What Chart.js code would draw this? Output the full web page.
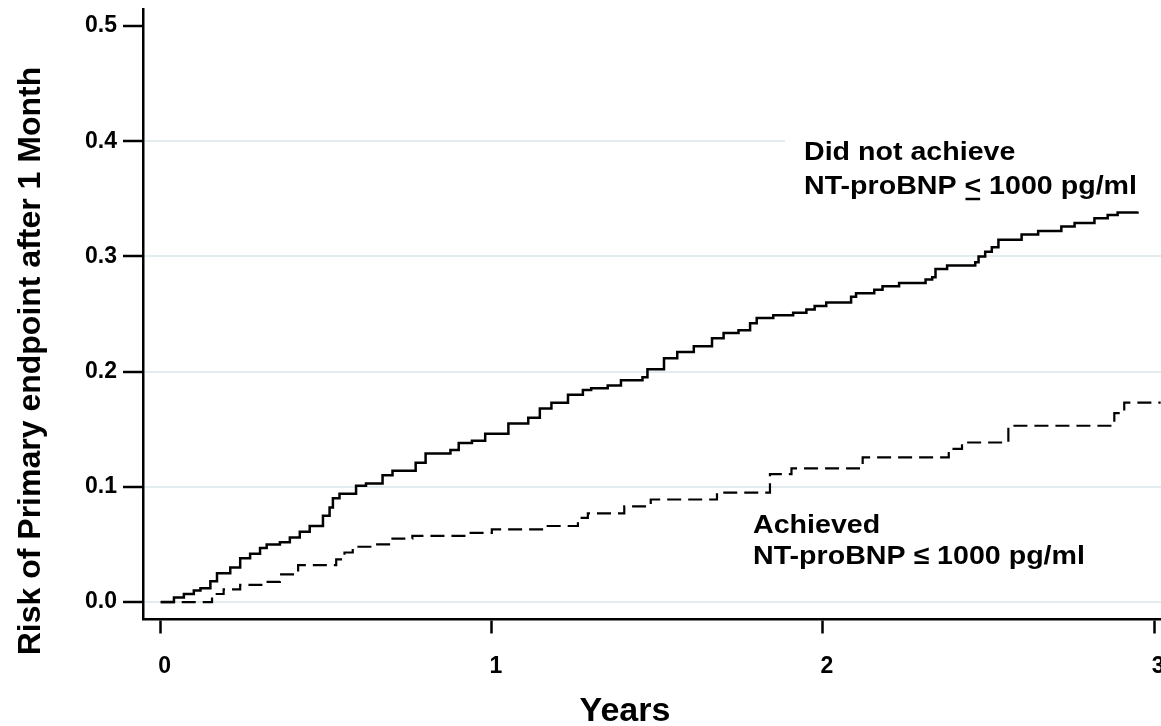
<!DOCTYPE html>
<html>
<head>
<meta charset="utf-8">
<title>Risk of primary endpoint by NT-proBNP response</title>
<script src="https://cdn.jsdelivr.net/npm/chart.js@4.4.1/dist/chart.umd.min.js"></script>
<style>
    html, body { margin: 0; padding: 0; background: #fff; overflow: hidden; }
    #wrap { width: 1161px; height: 726px; }
</style>
</head>
<body>
<div id="wrap"><canvas id="riskChart" width="1161" height="726"></canvas></div>
<script>
/* ---------------- Data ---------------- */

const yearTicks = [0, 1, 2, 3];
const riskTicks = [0, 0.1, 0.2, 0.3, 0.4, 0.5];

// Did not achieve NT-proBNP <= 1000 pg/ml (step times in years, cumulative risk)
const notAchievedYears = [
    0, 0.04, 0.07, 0.10, 0.12, 0.15, 0.17, 0.21, 0.24, 0.27, 0.30, 0.32, 0.36, 0.39,
    0.42, 0.45, 0.49, 0.51, 0.52, 0.54, 0.59, 0.62, 0.67, 0.70, 0.77, 0.80, 0.875,
    0.90, 0.94, 0.98, 1.05, 1.11, 1.145, 1.18, 1.23, 1.275, 1.30, 1.35, 1.39, 1.455,
    1.47, 1.52, 1.56, 1.61, 1.665, 1.70, 1.745, 1.78, 1.80, 1.85, 1.91, 1.95, 1.975,
    2.01, 2.085, 2.10, 2.155, 2.18, 2.23, 2.31, 2.33, 2.34, 2.375, 2.46, 2.47, 2.49,
    2.51, 2.53, 2.60, 2.65, 2.72, 2.76, 2.82, 2.86, 2.89, 2.95
];
const notAchievedRisk = [
    0, 0.004, 0.007, 0.010, 0.012, 0.018, 0.025, 0.030, 0.038, 0.042, 0.047, 0.050, 0.052, 0.056,
    0.061, 0.066, 0.075, 0.082, 0.090, 0.094, 0.101, 0.103, 0.110, 0.114, 0.121, 0.129, 0.132,
    0.138, 0.140, 0.146, 0.155, 0.160, 0.168, 0.173, 0.180, 0.184, 0.1855, 0.188, 0.1925, 0.195,
    0.202, 0.2115, 0.217, 0.222, 0.229, 0.2335, 0.236, 0.242, 0.2465, 0.249, 0.251, 0.254, 0.257,
    0.260, 0.265, 0.268, 0.271, 0.274, 0.277, 0.280, 0.282, 0.289, 0.292, 0.295, 0.300, 0.304,
    0.308, 0.3145, 0.319, 0.322, 0.326, 0.329, 0.333, 0.336, 0.338, 0.339
];

// Achieved NT-proBNP <= 1000 pg/ml
const achievedYears = [
    0, 0.155, 0.19, 0.24, 0.31, 0.36, 0.415, 0.53, 0.555, 0.58, 0.64, 0.70, 0.76,
    0.93, 1.00, 1.16, 1.26, 1.29, 1.40, 1.48, 1.68, 1.84, 1.905, 2.12, 2.38, 2.42,
    2.56, 2.88, 2.91, 3.02
];
const achievedRisk = [
    0, 0.007, 0.011, 0.015, 0.0175, 0.024, 0.032, 0.037, 0.043, 0.048, 0.050, 0.055, 0.0575,
    0.060, 0.063, 0.066, 0.073, 0.077, 0.083, 0.089, 0.095, 0.111, 0.116, 0.1255, 0.133, 0.1385,
    0.153, 0.164, 0.173, 0.173
];

const FONT = "'Liberation Sans', Arial, Helvetica, sans-serif";

function toPoints(xs, ys) {
    return xs.map((x, i) => ({ x: x, y: ys[i] }));
}

/* ---------------- Text helpers ---------------- */

function drawText(ctx, text, x, y, size, stretch) {
    ctx.save();
    ctx.translate(x, y);
    ctx.scale(stretch, 1);
    ctx.font = "bold " + size + "px " + FONT;
    ctx.fillStyle = "#000";
    ctx.textAlign = "left";
    ctx.textBaseline = "alphabetic";
    ctx.fillText(text, 0, 0);
    ctx.restore();
}

const labelsPlugin = {
    id: "curveLabels",
    beforeDatasetsDraw(chart) {
        const ctx = chart.ctx;
        // white box behind the upper label hides the gridline there
        ctx.save();
        ctx.fillStyle = "#fff";
        ctx.fillRect(785, 128, 376, 74);
        ctx.restore();
    },
    afterDraw(chart) {
        const ctx = chart.ctx;
        const size = 26;
        const stretch = 1.1;

        // upper curve label, "<" is underlined to read as "less than or equal"
        drawText(ctx, "Did not achieve", 804, 160, size, stretch);
        drawText(ctx, "NT-proBNP < 1000 pg/ml", 804, 194, size, stretch);
        ctx.save();
        ctx.font = "bold " + size + "px " + FONT;
        const pre = ctx.measureText("NT-proBNP ").width * stretch;
        const lt = ctx.measureText("<").width * stretch;
        ctx.strokeStyle = "#000";
        ctx.lineWidth = 2.5;
        ctx.beginPath();
        ctx.moveTo(804 + pre + 1, 199);
        ctx.lineTo(804 + pre + lt - 1, 199);
        ctx.stroke();
        ctx.restore();

        // lower curve label
        drawText(ctx, "Achieved", 753, 533, size, stretch);
        drawText(ctx, "NT-proBNP \u2264 1000 pg/ml", 753, 564, size, stretch);

        // axis titles
        ctx.save();
        ctx.fillStyle = "#000";
        ctx.font = "bold 34px " + FONT;
        ctx.textAlign = "center";
        ctx.textBaseline = "alphabetic";
        ctx.fillText("Years", 625, 721);
        ctx.translate(40, 361);
        ctx.rotate(-Math.PI / 2);
        ctx.font = "bold 32px " + FONT;
        ctx.fillText("Risk of Primary endpoint after 1 Month", 0, 0);
        ctx.restore();
    }
};

/* ---------------- Chart ---------------- */

new Chart(document.getElementById("riskChart"), {
    type: "line",
    data: {
        datasets: [
            {
                label: "Did not achieve NT-proBNP <= 1000 pg/ml",
                data: toPoints(notAchievedYears, notAchievedRisk),
                borderColor: "#000",
                borderWidth: 2.5,
                stepped: true,
                pointRadius: 0,
                fill: false
            },
            {
                label: "Achieved NT-proBNP <= 1000 pg/ml",
                data: toPoints(achievedYears, achievedRisk),
                borderColor: "#000",
                borderWidth: 2.2,
                borderDash: [14, 7],
                stepped: true,
                pointRadius: 0,
                fill: false
            }
        ]
    },
    options: {
        responsive: false,
        animation: false,
        events: [],
        layout: { padding: { top: 9, left: 0, right: 0, bottom: 0 } },
        plugins: {
            legend: { display: false },
            tooltip: { enabled: false }
        },
        scales: {
            x: {
                type: "linear",
                min: -0.0535,
                max: 3.021,
                afterBuildTicks: s => { s.ticks = yearTicks.map(v => ({ value: v })); },
                afterFit: s => { s.height = 107; },
                border: { color: "#000", width: 2.5 },
                grid: {
                    drawOnChartArea: false,
                    drawTicks: true,
                    tickLength: 34,
                    tickColor: "#000",
                    tickWidth: 2.5,
                    tickBorderDash: [13, 200]
                },
                ticks: {
                    padding: 0,
                    labelOffset: 4,
                    maxRotation: 0,
                    autoSkip: false,
                    color: "#000",
                    font: { family: FONT, size: 23, weight: "bold" },
                    callback: v => String(v)
                }
            },
            y: {
                type: "linear",
                min: -0.0147,
                max: 0.5147,
                afterBuildTicks: s => { s.ticks = riskTicks.map(v => ({ value: v })); },
                afterFit: s => { s.width = 143; },
                border: { color: "#000", width: 2.5 },
                grid: {
                    color: c => (c.tick && c.tick.value > 0.45 ? "rgba(0,0,0,0)" : "#e3ecef"),
                    lineWidth: 2,
                    drawTicks: true,
                    tickLength: 20,
                    tickColor: "#000",
                    tickWidth: 2.5
                },
                ticks: {
                    padding: 6,
                    color: "#000",
                    font: { family: FONT, size: 23, weight: "bold", lineHeight: 0.05 },
                    callback: v => v.toFixed(1)
                }
            }
        }
    },
    plugins: [labelsPlugin]
});
</script>
</body>
</html>
